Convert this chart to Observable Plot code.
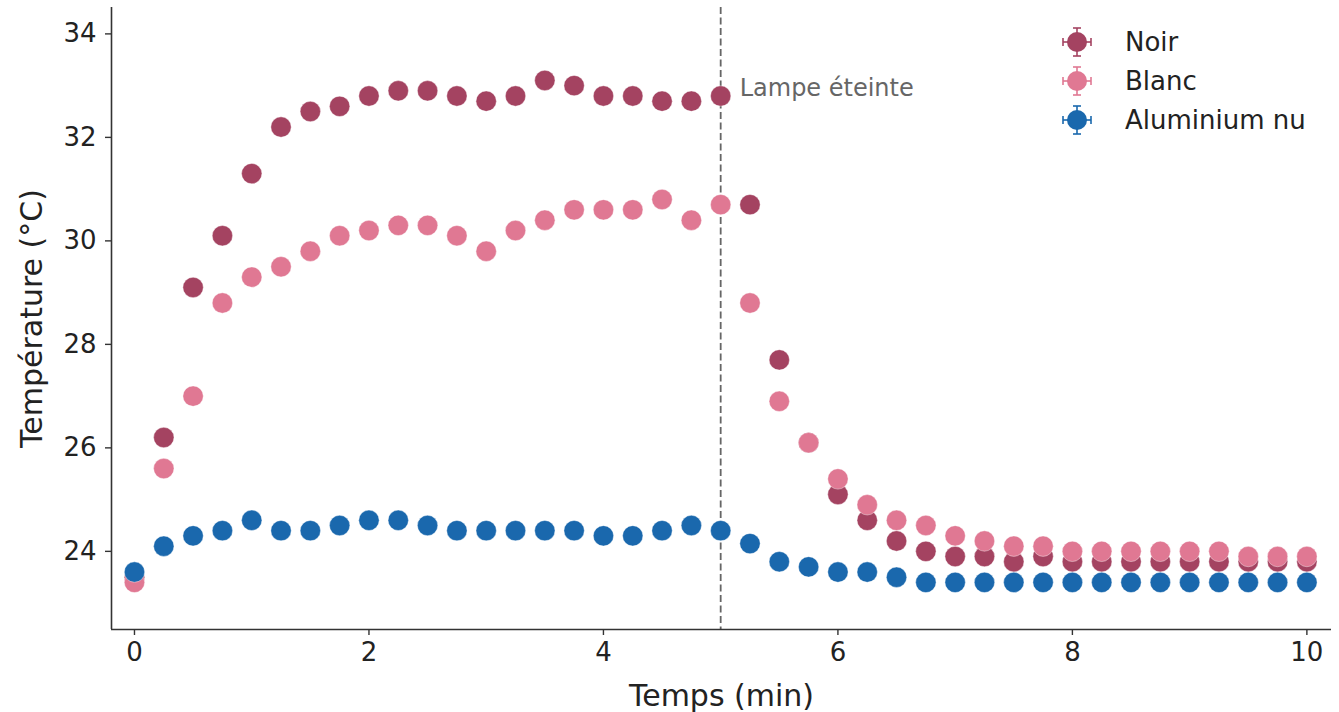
<!DOCTYPE html>
<html>
<head>
<meta charset="utf-8">
<script src="https://cdn.jsdelivr.net/npm/d3@7"></script>
<script src="https://cdn.jsdelivr.net/npm/@observablehq/plot@0.6"></script>
<style>
  html, body { margin: 0; padding: 0; background: #fff; }
  #wrap { position: relative; width: 1339px; height: 712px; font-family: "DejaVu Sans", sans-serif; }
  #legend { position: absolute; left: 0; top: 0; width: 1339px; height: 0; }
  .lg-item { position: absolute; height: 30px; display: flex; align-items: center; }
  .lg-item svg { position: absolute; }
  .lg-item span { position: absolute; font-size: 26px; color: #222; white-space: nowrap; line-height: 30px; }
</style>
</head>
<body>
<div id="wrap"><div id="legend"></div></div>
<script>
// ---- data ----
const times = [0, 0.25, 0.5, 0.75, 1, 1.25, 1.5, 1.75, 2, 2.25, 2.5, 2.75, 3, 3.25, 3.5, 3.75,
  4, 4.25, 4.5, 4.75, 5, 5.25, 5.5, 5.75, 6, 6.25, 6.5, 6.75, 7, 7.25, 7.5, 7.75,
  8, 8.25, 8.5, 8.75, 9, 9.25, 9.5, 9.75, 10];
const noir = [23.5, 26.2, 29.1, 30.1, 31.3, 32.2, 32.5, 32.6, 32.8, 32.9, 32.9, 32.8, 32.7, 32.8, 33.1, 33.0,
  32.8, 32.8, 32.7, 32.7, 32.8, 30.7, 27.7, 26.1, 25.1, 24.6, 24.2, 24.0, 23.9, 23.9, 23.8, 23.9,
  23.8, 23.8, 23.8, 23.8, 23.8, 23.8, 23.8, 23.8, 23.8];
const blanc = [23.4, 25.6, 27.0, 28.8, 29.3, 29.5, 29.8, 30.1, 30.2, 30.3, 30.3, 30.1, 29.8, 30.2, 30.4, 30.6,
  30.6, 30.6, 30.8, 30.4, 30.7, 28.8, 26.9, 26.1, 25.4, 24.9, 24.6, 24.5, 24.3, 24.2, 24.1, 24.1,
  24.0, 24.0, 24.0, 24.0, 24.0, 24.0, 23.9, 23.9, 23.9];
const aluminium = [23.6, 24.1, 24.3, 24.4, 24.6, 24.4, 24.4, 24.5, 24.6, 24.6, 24.5, 24.4, 24.4, 24.4, 24.4, 24.4,
  24.3, 24.3, 24.4, 24.5, 24.4, 24.15, 23.8, 23.7, 23.6, 23.6, 23.5, 23.4, 23.4, 23.4, 23.4, 23.4,
  23.4, 23.4, 23.4, 23.4, 23.4, 23.4, 23.4, 23.4, 23.4];
const seriesNames = ["Noir", "Blanc", "Aluminium nu"];
const seriesColors = ["#a44361", "#e07893", "#1a68ad"];
const xTicks = [0, 2, 4, 6, 8, 10];
const yTicks = [24, 26, 28, 30, 32, 34];
const lampOffTime = 5;
const lampOffLabel = "Lampe éteinte";
const lampLabelY = 32.95;
const xLabel = "Temps (min)";
const yLabel = "Température (°C)";

// ---- build table ----
const seriesValues = [noir, blanc, aluminium];
const rows = [];
seriesNames.forEach((name, s) => {
  times.forEach((t, i) => rows.push({series: name, t, v: seriesValues[s][i]}));
});

const xDomain = [-0.196, 10.21];
const yDomain = [22.49, 34.51];

const chart = Plot.plot({
  width: 1339,
  height: 712,
  marginLeft: 111,
  marginRight: 8,
  marginTop: 7,
  marginBottom: 83,
  style: {fontFamily: "DejaVu Sans, sans-serif", color: "#222", background: "#fff"},
  x: {domain: xDomain, ticks: xTicks},
  y: {domain: yDomain, ticks: yTicks},
  color: {domain: seriesNames, range: seriesColors},
  marks: [
    Plot.ruleX([lampOffTime], {stroke: "#666", strokeWidth: 1.8, strokeDasharray: "7,3.5"}),
    Plot.dot(rows, {x: "t", y: "v", fill: "series", r: 10.2, stroke: "#fff", strokeWidth: 0.4}),
    Plot.text([lampOffLabel], {x: [lampOffTime], y: [lampLabelY], text: d => d, textAnchor: "start", dx: 19, fontSize: 24, fill: "#666"}),
    Plot.axisX({ticks: xTicks, tickSize: 6, tickPadding: 7, fontSize: 26, label: null, stroke: "#333", strokeWidth: 1.4}),
    Plot.axisY({ticks: yTicks, tickSize: 6, tickPadding: 9, fontSize: 26, label: null, stroke: "#333", strokeWidth: 1.4}),
    Plot.ruleX([xDomain[0]], {stroke: "#333", strokeWidth: 1.6}),
    Plot.ruleY([yDomain[0]], {stroke: "#333", strokeWidth: 1.6}),
    Plot.text([xLabel], {frameAnchor: "bottom", lineAnchor: "top", textAnchor: "middle", dy: 55, text: d => d, fontSize: 30, fill: "#222"}),
    Plot.text([yLabel], {frameAnchor: "left", rotate: -90, textAnchor: "middle", lineAnchor: "middle", dx: -79, text: d => d, fontSize: 30, fill: "#222"})
  ]
});
document.getElementById("wrap").prepend(chart);

// ---- legend ----
const legend = document.getElementById("legend");
const legendRowsY = [42, 81, 120];
seriesNames.forEach((name, i) => {
  const item = document.createElement("div");
  item.className = "lg-item";
  item.style.left = "0px";
  item.style.top = (legendRowsY[i] - 15) + "px";
  const c = seriesColors[i];
  item.innerHTML = `<svg width="40" height="40" style="left:${1077 - 20}px; top:-5px" viewBox="-20 -20 40 40">
      <line x1="-14" y1="0" x2="14" y2="0" stroke="${c}" stroke-width="1.6"/>
      <line x1="0" y1="-14" x2="0" y2="14" stroke="${c}" stroke-width="1.6"/>
      <line x1="-14" y1="-4" x2="-14" y2="4" stroke="${c}" stroke-width="1.6"/>
      <line x1="14" y1="-4" x2="14" y2="4" stroke="${c}" stroke-width="1.6"/>
      <line x1="-4" y1="-14" x2="4" y2="-14" stroke="${c}" stroke-width="1.6"/>
      <line x1="-4" y1="14" x2="4" y2="14" stroke="${c}" stroke-width="1.6"/>
      <circle cx="0" cy="0" r="10" fill="${c}"/>
    </svg><span style="left:1125px; top:0px">${name}</span>`;
  legend.appendChild(item);
});
</script>
</body>
</html>
